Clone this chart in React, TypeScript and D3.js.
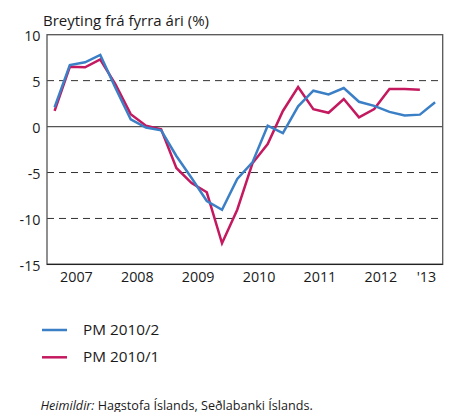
import React from "react";
import * as d3 from "d3";

const years = ["2007", "2008", "2009", "2010", "2011", "2012", "'13"];
const quartersPerYear = [4, 4, 4, 4, 4, 4, 2];
const yTicks = [10, 5, 0, -5, -10, -15];
const gridDashed = [5, -5, -10];

const pm2010_2 = [2.1, 6.7, 7.0, 7.8, 4.2, 0.8, -0.1, -0.4, -3.2, -5.6, -8.1, -9.05, -5.7, -3.9, 0.1, -0.7, 2.2, 3.9, 3.5, 4.2, 2.7, 2.25, 1.6, 1.2, 1.3, 2.65];
const pm2010_1 = [1.7, 6.5, 6.45, 7.3, 4.6, 1.35, 0.1, -0.3, -4.5, -6.15, -7.15, -12.7, -9.05, -4.0, -1.9, 1.7, 4.3, 1.9, 1.5, 3.0, 1.0, 1.9, 4.1, 4.1, 4.0];

const seriesNames = ["PM 2010/2", "PM 2010/1"];
const colors = ["#3b7fc6", "#c4185f"];

export default function App() {
  const W = 449, H = 412;
  const left = 47, right = 442.7, top = 34.7, bottom = 264.4;
  const nQ = d3.sum(quartersPerYear);
  const quarters = d3.range(nQ);
  const x = d3.scaleBand<number>().domain(quarters).range([left, right]);
  const y = d3.scaleLinear().domain([-15, 10]).range([bottom, top]);
  const cx = (i: number) => (x(i) as number) + x.bandwidth() / 2;
  const line = d3.line<number>().x((_, i) => cx(i)).y((d) => y(d));

  const starts = d3.cumsum([0, ...quartersPerYear]);
  const font = "'Open Sans', 'Noto Sans', sans-serif";

  return (
    <svg width={W} height={H} style={{ position: "absolute", left: 0, top: 0, background: "#fff" }} fontFamily={font}>
      <text x={43} y={26} fontSize={15} fill="#1a1a1a">Breyting frá fyrra ári (%)</text>
      {gridDashed.map((v) => (
        <line key={v} x1={left} x2={right} y1={y(v)} y2={y(v)} stroke="#333" strokeWidth={1} strokeDasharray="7,5" />
      ))}
      <line x1={left} x2={right} y1={y(0)} y2={y(0)} stroke="#555" strokeWidth={1.3} />
      <rect x={left} y={top} width={right - left} height={bottom - top} fill="none" stroke="#555" strokeWidth={1.3} />
      <line x1={left} x2={right} y1={bottom} y2={bottom} stroke="#222" strokeWidth={1.3} />
      {starts.map((s, k) => {
        const xx = s < nQ ? (x(s) as number) : right;
        return <line key={k} x1={xx} x2={xx} y1={bottom} y2={bottom + 6.5} stroke="#222" strokeWidth={1.2} />;
      })}
      {years.map((yr, k) => {
        const a = x(starts[k]) as number;
        const b = starts[k + 1] < nQ ? (x(starts[k + 1]) as number) : right;
        return (
          <text key={yr} x={(a + b) / 2 - 1} y={281.7} fontSize={14.3} textAnchor="middle" fill="#1a1a1a">{yr}</text>
        );
      })}
      {yTicks.map((v) => (
        <text key={v} x={40.5} y={y(v) + 6.5} fontSize={14.3} textAnchor="end" fill="#1a1a1a">{v}</text>
      ))}
      <path d={line(pm2010_1) || ""} fill="none" stroke={colors[1]} strokeWidth={2.5} strokeLinejoin="miter" />
      <path d={line(pm2010_2) || ""} fill="none" stroke={colors[0]} strokeWidth={2.5} strokeLinejoin="miter" />
      {seriesNames.map((n, k) => (
        <g key={n}>
          <line x1={42} x2={67} y1={330 + k * 27.3} y2={330 + k * 27.3} stroke={colors[k]} strokeWidth={2.5} />
          <text x={83} y={335 + k * 27.3} fontSize={15.3} fill="#1a1a1a">{n}</text>
        </g>
      ))}
      <text x={40.5} y={409.5} fontSize={12.6} fill="#1a1a1a">
        <tspan fontStyle="italic">Heimildir:</tspan> Hagstofa Íslands, Seðlabanki Íslands.
      </text>
    </svg>
  );
}
